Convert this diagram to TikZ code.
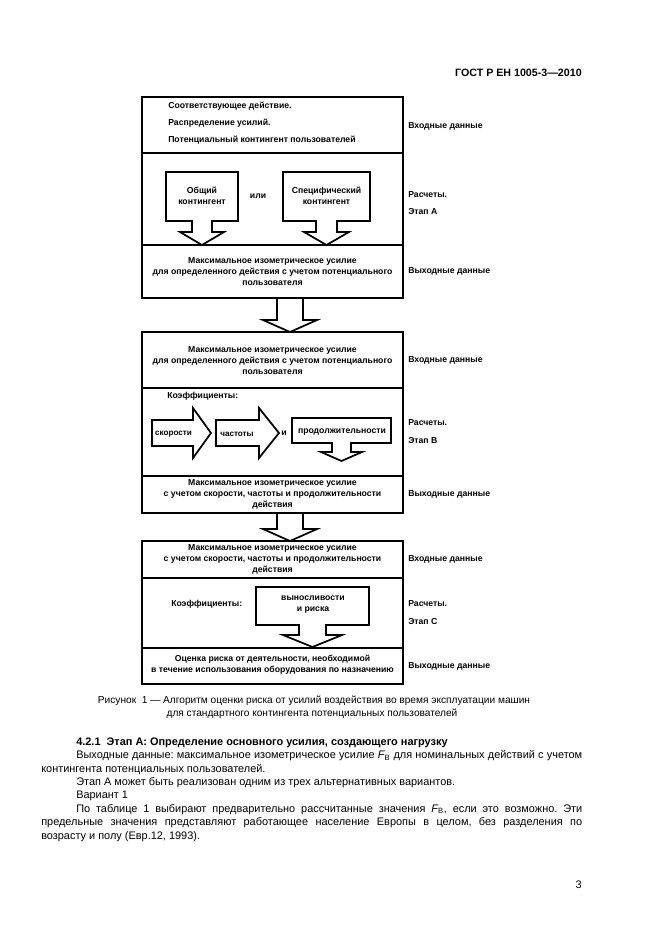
\documentclass[tikz,border=0pt]{standalone}
\usepackage{fontspec}
\setmainfont{Liberation Sans}
\frenchspacing
\begin{document}
\begin{tikzpicture}[x=0.75pt,y=-0.75pt,
  frame/.style={line width=1.85pt},
  shp/.style={line width=1.3pt, line join=miter},
  btxt/.style={font=\fontsize{6.5}{8.25}\selectfont\bfseries, inner sep=0pt, align=center},
  stxt/.style={font=\fontsize{6.1}{8}\selectfont\bfseries, inner sep=0pt, align=center},
  lbl/.style={font=\fontsize{6.5}{8.25}\selectfont\bfseries, inner sep=0pt, anchor=west},
  bodyl/.style={font=\fontsize{8.2}{10}\selectfont, inner sep=0pt, anchor=west},
  capl/.style={font=\fontsize{7.6}{9.75}\selectfont, inner sep=0pt}]
\useasboundingbox (0,0) rectangle (661,936);
\fill[white] (0,0) rectangle (661,936);

% header
\node[font=\fontsize{8}{10}\selectfont\bfseries, inner sep=0pt, anchor=east] (hdr) at (582,73) {ГОСТ Р ЕН 1005-3—2010};

% ---------------- Box A
\draw[frame] (142,97) rectangle (403,298);
\draw[frame] (142,153) -- (403,153);
\draw[frame] (142,245) -- (403,245);
\node[lbl] (a1) at (168,106) {Соответствующее действие.};
\node[lbl] (a2) at (168,123) {Распределение усилий.};
\node[lbl] (a3) at (168,140) {Потенциальный контингент пользователей};
\node[lbl] (ain) at (408,126) {Входные данные};
% callout arrows
\draw[shp] (166,172) -- (238,172) -- (238,221) -- (212,221) -- (212,232) -- (224,232) -- (202,245)
  -- (180,232) -- (192,232) -- (192,221) -- (166,221) -- cycle;
\node[btxt] (gen) at (202,196) {Общий\\контингент};
\node[btxt] (ili) at (258,196.5) {или};
\draw[shp] (283,172) -- (370,172) -- (370,221) -- (337,221) -- (337,232) -- (349,232) -- (326.5,245)
  -- (304,232) -- (316,232) -- (316,221) -- (283,221) -- cycle;
\node[btxt] (spec) at (326.5,196) {Специфический\\контингент};
\node[lbl] (arasch) at (408,195) {Расчеты.};
\node[lbl] (aetap) at (408,212) {Этап А};
\node[btxt] (aout) at (272.5,272) {Максимальное изометрическое усилие\\для определенного действия с учетом потенциального\\пользователя};
\node[lbl] (aoutl) at (408,271) {Выходные данные};

% connector A -> B
\coordinate (ab1) at (277,298);
\coordinate (ab2) at (303,298);
\coordinate (abt) at (290,332);
\draw[shp] (ab1) -- (277,320) -- (263,320) -- (abt) -- (317,320) -- (303,320) -- (ab2);

% ---------------- Box B
\draw[frame] (142,332) rectangle (403,513);
\draw[frame] (142,388) -- (403,388);
\draw[frame] (142,476) -- (403,476);
\node[btxt] (bin) at (272.5,361) {Максимальное изометрическое усилие\\для определенного действия с учетом потенциального\\пользователя};
\node[lbl] (binl) at (408,360) {Входные данные};
\node[lbl] (bk) at (167,396) {Коэффициенты:};
\draw[shp] (152,420) -- (193,420) -- (193,408) -- (211,433) -- (193,458) -- (193,446) -- (152,446) -- cycle;
\node[stxt] (spd) at (173.5,434.5) {скорости};
\draw[shp] (216,420) -- (259,420) -- (259,408) -- (279,433) -- (259,458) -- (259,446) -- (216,446) -- cycle;
\node[stxt] (frq) at (237,434) {частоты};
\node[btxt] (bi) at (284,433.5) {и};
\draw[shp] (292,418) -- (391,418) -- (391,443) -- (351,443) -- (351,452) -- (362,452) -- (341.5,461)
  -- (321,452) -- (332,452) -- (332,443) -- (292,443) -- cycle;
\node[btxt] (dur) at (342,432.5) {продолжительности};
\node[lbl] (brasch) at (408,423) {Расчеты.};
\node[lbl] (betap) at (408,441) {Этап В};
\node[btxt] (bout) at (272.5,494) {Максимальное изометрическое усилие\\с учетом скорости, частоты и продолжительности\\действия};
\node[lbl] (boutl) at (408,494) {Выходные данные};

% connector B -> C
\coordinate (bc1) at (277,513);
\coordinate (bc2) at (303,513);
\coordinate (bct) at (290,541);
\draw[shp] (bc1) -- (277,529) -- (263,529) -- (bct) -- (317,529) -- (303,529) -- (bc2);

% ---------------- Box C
\draw[frame] (142,541) rectangle (403,684);
\draw[frame] (142,578) -- (403,578);
\draw[frame] (142,648) -- (403,648);
\node[btxt] (cin) at (272.5,559) {Максимальное изометрическое усилие\\с учетом скорости, частоты и продолжительности\\действия};
\node[lbl] (cinl) at (408,559) {Входные данные};
\node[lbl] (ck) at (171,604) {Коэффициенты:};
\draw[shp] (256,587) -- (369,587) -- (369,625) -- (326,625) -- (326,635) -- (342,635) -- (312.5,647)
  -- (283,635) -- (299,635) -- (299,625) -- (256,625) -- cycle;
\node[btxt] (end) at (313,605) {выносливости\\и риска};
\node[lbl] (crasch) at (408,604) {Расчеты.};
\node[lbl] (cetap) at (408,622) {Этап С};
\node[btxt] (cout) at (272.5,665) {Оценка риска от деятельности, необходимой\\в течение использования оборудования по назначению};
\node[lbl] (coutl) at (408,666) {Выходные данные};

% caption
\node[capl] (cap1) at (314,701) {Рисунок~~1 — Алгоритм оценки риска от усилий воздействия во время эксплуатации машин};
\node[capl] (cap2) at (312,714) {для стандартного контингента потенциальных пользователей};

% body text
\node[bodyl, font=\fontsize{8.2}{10}\selectfont\bfseries] (t0) at (76,742.5) {4.2.1~~Этап А: Определение основного усилия, создающего нагрузку};
\node[bodyl] (t1) at (76,755.9) {\makebox[379.5pt][s]{Выходные данные: максимальное изометрическое усилие {\itshape F}\textsubscript{В} для номинальных действий с учетом}};
\node[bodyl] (t2) at (41,769.3) {контингента потенциальных пользователей.};
\node[bodyl] (t3) at (76,782.7) {Этап А может быть реализован одним из трех альтернативных вариантов.};
\node[bodyl] (t4) at (76,796.1) {Вариант 1};
\node[bodyl] (t5) at (76,809.5) {\makebox[379.5pt][s]{По таблице 1 выбирают предварительно рассчитанные значения {\itshape F}\textsubscript{В}, если это возможно. Эти}};
\node[bodyl] (t6) at (41,822.9) {\makebox[405.75pt][s]{предельные значения представляют работающее население Европы в целом, без разделения по}};
\node[bodyl] (t7) at (41,836.3) {возрасту и полу (Евр.12, 1993).};
\node[bodyl, anchor=east] (pg) at (582,885) {3};
\end{tikzpicture}
\end{document}
